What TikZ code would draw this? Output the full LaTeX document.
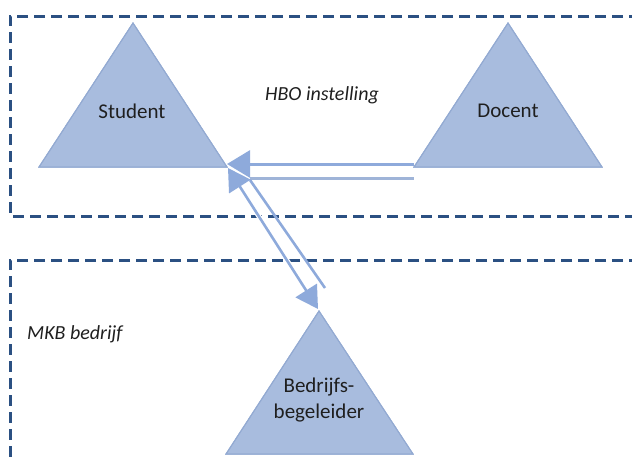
\documentclass[tikz,border=0pt]{standalone}
\usepackage{fontspec}
\setmainfont{Carlito}
\usetikzlibrary{arrows.meta,calc}
\definecolor{frameblue}{HTML}{2B5082}
\definecolor{trifill}{HTML}{A8BCDE}
\definecolor{triedge}{HTML}{93AAD2}
\definecolor{arrowblue}{HTML}{8EAADB}
\definecolor{lightline}{HTML}{9FB4D8}
\tikzset{
  frame/.style={draw=frameblue, line width=3pt, dash pattern=on 11pt off 6pt},
  tri/.style={fill=trifill, draw=triedge, line width=1pt, line join=miter},
  label/.style={font=\fontsize{21}{26}\selectfont, text=black!88, align=center, inner sep=0pt},
  italabel/.style={label, font=\fontsize{20}{24}\selectfont\itshape},
  conn/.style={draw=arrowblue, line width=3pt},
  tip/.style={-{Triangle[length=23pt,width=27pt]}},
  dtip/.style={{Triangle[length=22pt,width=25pt]}-{Triangle[length=22pt,width=25pt]}},
  plain/.style={draw=lightline, line width=3pt, dash pattern=on 1.5pt off 0.5pt},
}
\begin{document}
\begin{tikzpicture}[x=1pt,y=-1pt]
\useasboundingbox (0,0) rectangle (632,456);
% frames
\draw[frame] (640,16) -- (10,16) -- (10,216) -- (640,216);
\draw[frame] (640,260) -- (10,260) -- (10,470);
% triangle corners
\coordinate (sA) at (133,23); \coordinate (sL) at (39,167); \coordinate (sR) at (227,167);
\coordinate (dA) at (508,23); \coordinate (dL) at (414,167); \coordinate (dR) at (602,167);
\coordinate (bA) at (319,311); \coordinate (bL) at (226,454); \coordinate (bR) at (413,454);
\fill[tri] (sA) -- (sL) -- (sR) -- cycle;
\fill[tri] (dA) -- (dL) -- (dR) -- cycle;
\fill[tri] (bA) -- (bL) -- (bR) -- cycle;
\draw[tri,fill=none] (sA) -- (sL) -- (sR) -- cycle;
\draw[tri,fill=none] (dA) -- (dL) -- (dR) -- cycle;
\draw[tri,fill=none] (bA) -- (bL) -- (bR) -- cycle;
% labels
\node[label] (student) at (132,111) {Student};
\node[label] (docent) at (508,111) {Docent};
\node[label] (bedrijf) at (319,400) {Bedrijfs-\\begeleider};
\node[italabel] (hbo) at (322,95) {HBO instelling};
\node[italabel, anchor=west] (mkb) at (27,334) {MKB bedrijf};
% connector end points
\coordinate (h1s) at (414,164); \coordinate (h1e) at (227,164);
\coordinate (h2s) at (250,178); \coordinate (h2e) at (414,178);
\coordinate (d1s) at (228,168); \coordinate (d1e) at (318,309);
\coordinate (d2s) at (250,180); \coordinate (d2e) at (325,288);
% connectors
\draw[plain] (h2s) -- (h2e);
\draw[conn, tip] (h1s) -- (h1e);
\draw[conn, line width=2.6pt] (d2s) -- (d2e);
\draw[white, line width=5pt] ($(d1s)!0.1!(d1e)$) -- ($(d1s)!0.85!(d1e)$);
\draw[conn, line width=2.6pt, dtip] (d1s) -- (d1e);
\end{tikzpicture}
\end{document}
